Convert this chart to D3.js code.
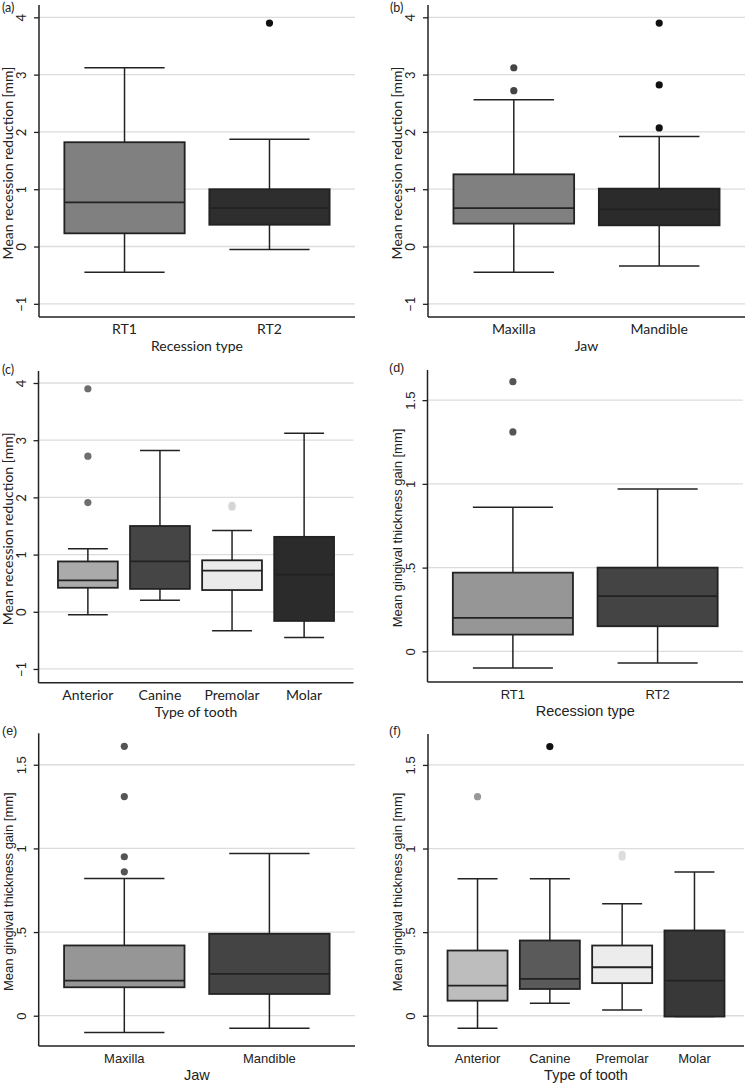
<!DOCTYPE html>
<html>
<head>
<meta charset="utf-8">
<script src="https://cdn.jsdelivr.net/npm/d3@7/dist/d3.min.js"></script>
<style>
  body { margin: 0; background: #fff; }
  svg { display: block; }
</style>
</head>
<body>
<svg id="chart" width="746" height="1086"></svg>
<script>
// categories
const recessionTypes = ['RT1', 'RT2'];
const jaws = ['Maxilla', 'Mandible'];
const teeth = ['Anterior', 'Canine', 'Premolar', 'Molar'];

// tick values and labels
const recTicks = [-1, 0, 1, 2, 3, 4];
const recTickLabels = ['\u22121', '0', '1', '2', '3', '4'];
const gainTicks = [0, 0.5, 1, 1.5];
const gainTickLabels = ['0', '.5', '1', '1.5'];

// box statistics per category: [lower whisker, Q1, median, Q3, upper whisker]
const recByType = [[-0.45, 0.23, 0.77, 1.82, 3.12], [-0.05, 0.38, 0.67, 1.00, 1.87]];
const recByTypeOut = [[], [3.9]];
const recByJaw = [[-0.45, 0.40, 0.67, 1.26, 2.56], [-0.34, 0.37, 0.65, 1.01, 1.92]];
const recByJawOut = [[3.12, 2.72], [3.9, 2.82, 2.07]];
const recByTooth = [[-0.05, 0.42, 0.55, 0.88, 1.10], [0.20, 0.40, 0.88, 1.50, 2.82],
                    [-0.33, 0.38, 0.72, 0.90, 1.42], [-0.45, -0.16, 0.65, 1.31, 3.12]];
const recByToothOut = [[3.9, 2.72, 1.91], [], [1.83, 1.86], []];

const gainByType = [[-0.10, 0.10, 0.20, 0.47, 0.86], [-0.07, 0.15, 0.33, 0.50, 0.97]];
const gainByTypeOut = [[1.61, 1.31], []];
const gainByJaw = [[-0.10, 0.17, 0.21, 0.42, 0.82], [-0.075, 0.13, 0.25, 0.49, 0.97]];
const gainByJawOut = [[1.61, 1.31, 0.95, 0.86], []];
const gainByTooth = [[-0.075, 0.09, 0.18, 0.39, 0.82], [0.075, 0.16, 0.22, 0.45, 0.82],
                     [0.035, 0.195, 0.29, 0.42, 0.67], [-0.005, -0.005, 0.21, 0.51, 0.86]];
const gainByToothOut = [[1.31], [1.61], [0.95, 0.965], []];

const svg = d3.select('#chart');
const ink = '#222';

// text styles for the two figure halves
const humanist = { family: "'Lato', sans-serif", tick: 13, cat: 14, xTitle: 14, yTitle: 14, tag: 12.5 };
const grotesk = { family: "'Liberation Sans', Arial, sans-serif", tick: 13, cat: 13, xTitle: 14.5, yTitle: 13, tag: 12.5 };

const panels = [
  { tag: '(a)', cats: recessionTypes, stats: recByType, out: recByTypeOut,
    ticks: recTicks, labels: recTickLabels, xTitle: 'Recession type', yTitle: 'Mean recession reduction [mm]',
    fills: ['#808080', '#2e2e2e'], dots: ['#444', '#111'], type: humanist,
    left: 39, right: 355, top: 5, bottom: 317, domain: [-1.23, 4.215], outer: 0.175, tagX: 2, tagY: 12 },
  { tag: '(b)', cats: jaws, stats: recByJaw, out: recByJawOut,
    ticks: recTicks, labels: recTickLabels, xTitle: 'Jaw', yTitle: 'Mean recession reduction [mm]',
    fills: ['#808080', '#2b2b2b'], dots: ['#444', '#111'], type: humanist,
    left: 428, right: 745, top: 5, bottom: 317, domain: [-1.23, 4.215], outer: 0.175, tagX: 390, tagY: 12 },
  { tag: '(c)', cats: teeth, stats: recByTooth, out: recByToothOut,
    ticks: recTicks, labels: recTickLabels, xTitle: 'Type of tooth', yTitle: 'Mean recession reduction [mm]',
    fills: ['#aaaaaa', '#454545', '#ebebeb', '#2b2b2b'], dots: ['#6e6e6e', '#222', '#d6d6d6', '#111'], type: humanist,
    left: 38.5, right: 353.5, top: 371, bottom: 682.7, domain: [-1.24, 4.21], outer: 0.27, tagX: 2, tagY: 374 },
  { tag: '(d)', cats: recessionTypes, stats: gainByType, out: gainByTypeOut,
    ticks: gainTicks, labels: gainTickLabels, xTitle: 'Recession type', yTitle: 'Mean gingival thickness gain [mm]',
    fills: ['#969696', '#444444'], dots: ['#555', '#222'], type: grotesk,
    left: 427.5, right: 743, top: 370, bottom: 682, domain: [-0.183, 1.68], outer: 0.175, tagX: 389, tagY: 372 },
  { tag: '(e)', cats: jaws, stats: gainByJaw, out: gainByJawOut,
    ticks: gainTicks, labels: gainTickLabels, xTitle: 'Jaw', yTitle: 'Mean gingival thickness gain [mm]',
    fills: ['#969696', '#444444'], dots: ['#555', '#222'], type: grotesk,
    left: 38.7, right: 355, top: 733.3, bottom: 1046, domain: [-0.181, 1.688], outer: 0.175, tagX: 2, tagY: 735 },
  { tag: '(f)', cats: teeth, stats: gainByTooth, out: gainByToothOut,
    ticks: gainTicks, labels: gainTickLabels, xTitle: 'Type of tooth', yTitle: 'Mean gingival thickness gain [mm]',
    fills: ['#bdbdbd', '#5a5a5a', '#ececec', '#383838'], dots: ['#999', '#111', '#dddddd', '#111'], type: grotesk,
    left: 428, right: 744, top: 734, bottom: 1046, domain: [-0.181, 1.685], outer: 0.27, tagX: 389, tagY: 735 }
];

panels.forEach(p => {
  const t = p.type;
  const g = svg.append('g').style('font-family', t.family).attr('fill', ink);

  const x = d3.scaleBand().domain(p.cats).range([p.left, p.right])
    .paddingInner(0.17).paddingOuter(p.outer);
  const y = d3.scaleLinear().domain(p.domain).range([p.bottom, p.top]);

  // gridlines
  g.selectAll('.grid').data(p.ticks).enter().append('line')
    .attr('x1', p.left).attr('x2', p.right)
    .attr('y1', d => y(d)).attr('y2', d => y(d))
    .attr('stroke', '#dcdcdc').attr('stroke-width', 1.3);

  // y axis
  const yAxis = d3.axisLeft(y).tickValues(p.ticks).tickSize(5)
    .tickFormat((d, i) => p.labels[i]);
  const ya = g.append('g').attr('transform', `translate(${p.left},0)`).call(yAxis);
  ya.select('.domain').remove();
  ya.attr('font-family', null).attr('font-size', null);
  ya.selectAll('.tick line').attr('stroke', ink).attr('stroke-width', 1.3);
  ya.selectAll('.tick text')
    .attr('x', 0).attr('dy', 0)
    .attr('transform', 'translate(-13,0) rotate(-90)')
    .attr('text-anchor', 'middle')
    .attr('fill', ink)
    .style('font-size', t.tick + 'px').style('font-family', t.family);

  // axis lines
  g.append('line').attr('x1', p.left).attr('x2', p.left).attr('y1', p.top).attr('y2', p.bottom)
    .attr('stroke', ink).attr('stroke-width', 1.5);
  g.append('line').attr('x1', p.left).attr('x2', p.right).attr('y1', p.bottom).attr('y2', p.bottom)
    .attr('stroke', ink).attr('stroke-width', 1.5);

  // boxes
  const bw = x.bandwidth();
  const box = g.selectAll('.box').data(p.cats).enter().append('g');
  box.each(function (c, i) {
    const s = p.stats[i];
    const b = d3.select(this);
    const cx = x(c) + bw / 2;
    const capW = bw * 2 / 3;
    // whiskers
    b.append('line').attr('x1', cx).attr('x2', cx).attr('y1', y(s[0])).attr('y2', y(s[1]))
      .attr('stroke', ink).attr('stroke-width', 1.5);
    b.append('line').attr('x1', cx).attr('x2', cx).attr('y1', y(s[3])).attr('y2', y(s[4]))
      .attr('stroke', ink).attr('stroke-width', 1.5);
    b.append('line').attr('x1', cx - capW / 2).attr('x2', cx + capW / 2).attr('y1', y(s[0])).attr('y2', y(s[0]))
      .attr('stroke', ink).attr('stroke-width', 1.5);
    b.append('line').attr('x1', cx - capW / 2).attr('x2', cx + capW / 2).attr('y1', y(s[4])).attr('y2', y(s[4]))
      .attr('stroke', ink).attr('stroke-width', 1.5);
    // box
    b.append('rect').attr('x', x(c)).attr('width', bw)
      .attr('y', y(s[3])).attr('height', Math.max(1, y(s[1]) - y(s[3])))
      .attr('fill', p.fills[i]).attr('stroke', ink).attr('stroke-width', 1.8);
    // median
    b.append('line').attr('x1', x(c)).attr('x2', x(c) + bw).attr('y1', y(s[2])).attr('y2', y(s[2]))
      .attr('stroke', ink).attr('stroke-width', 1.8);
    // outliers
    b.selectAll('circle').data(p.out[i]).enter().append('circle')
      .attr('cx', cx).attr('cy', d => y(d)).attr('r', 3.6)
      .attr('fill', p.dots[i]);
  });

  // x tick labels
  g.selectAll('.xlab').data(p.cats).enter().append('text')
    .attr('x', d => x(d) + bw / 2).attr('y', p.bottom + 17)
    .attr('text-anchor', 'middle').style('font-size', t.cat + 'px').text(d => d);

  // axis titles
  g.append('text').attr('x', (p.left + p.right) / 2).attr('y', p.bottom + 34)
    .attr('text-anchor', 'middle').style('font-size', t.xTitle + 'px').text(p.xTitle);
  g.append('text')
    .attr('transform', `translate(${p.left - 26},${(p.top + p.bottom) / 2 + 2}) rotate(-90)`)
    .attr('text-anchor', 'middle').style('font-size', t.yTitle + 'px').text(p.yTitle);

  // panel tag
  g.append('text').attr('x', p.tagX).attr('y', p.tagY).style('font-size', t.tag + 'px').text(p.tag);
});
</script>
</body>
</html>
